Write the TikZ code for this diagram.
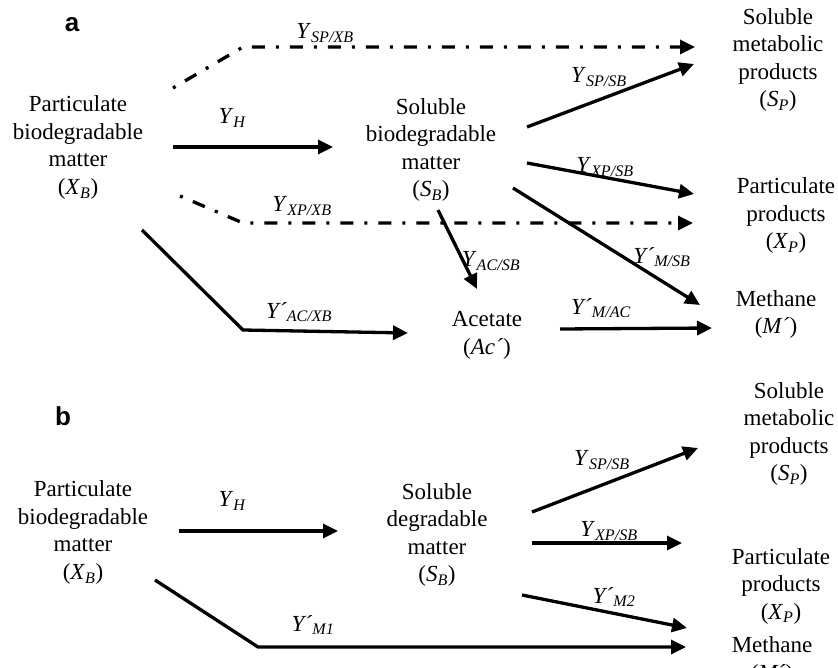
\documentclass[tikz,border=0pt]{standalone}
\usepackage{fontspec}
\setmainfont{Liberation Serif}
\newfontfamily\panelfont{Liberation Sans}
\usetikzlibrary{arrows.meta}
\newcommand{\yld}[2]{\textit{#1}\textsubscript{\itshape #2}}

\begin{document}
\begin{tikzpicture}[x=1pt, y=-1pt,
        txt/.style={align=center, inner sep=0pt, font=\fontsize{23}{27.5}\selectfont},
        lbl/.style={inner sep=0pt, font=\fontsize{23}{27.5}\selectfont},
        panel/.style={inner sep=0pt, font=\panelfont\bfseries\fontsize{26}{30}\selectfont},
        arrow/.style={-{Triangle[length=15pt, width=14pt]}, line width=3.3pt},
        dashdot2/.style={arrow, dash pattern=on 3pt off 11pt on 13pt off 11pt},
    ]
    \useasboundingbox (0,0) rectangle (838,668);

    % panel a
    \node[panel] (pa)  at (72,25)      {a};
    \node[txt]   (xba) at (78,147.5)   {Particulate\\biodegradable\\matter\\(\yld{X}{B})};
    \node[txt]   (sba) at (431,150)    {Soluble\\biodegradable\\matter\\(\yld{S}{B})};
    \node[txt]   (spa) at (778,60)     {Soluble\\metabolic\\products\\(\yld{S}{P})};
    \node[txt]   (xpa) at (786,215.5)  {Particulate\\products\\(\yld{X}{P})};
    \node[txt]   (ma)  at (776,314.5)  {Methane\\(\textit{M´})};
    \node[txt]   (aca) at (487,335.5)  {Acetate\\(\textit{Ac´})};

    \node[lbl] (lspxb) at (325,33)  {\yld{Y}{SP/XB}};
    \node[lbl] (lha)   at (232,118) {\yld{Y}{H}};
    \node[lbl] (lxpxb) at (302,206) {\yld{Y}{XP/XB}};
    \node[lbl] (lacxb) at (299,312) {\yld{Y´}{AC/XB}};
    \node[lbl] (lspsb) at (599,77)  {\yld{Y}{SP/SB}};
    \node[lbl] (lxpsb) at (605,167) {\yld{Y}{XP/SB}};
    \node[lbl] (lmsb)  at (662,257) {\yld{Y´}{M/SB}};
    \node[lbl] (lacsb) at (491,261) {\yld{Y}{AC/SB}};
    \node[lbl] (lmac)  at (601,308) {\yld{Y´}{M/AC}};

    \coordinate (ha0) at (173,147);  \coordinate (ha1) at (333,147);
    \coordinate (sp0) at (173,88);   \coordinate (sp1) at (243,47);  \coordinate (sp2) at (695,47);
    \coordinate (xp0) at (180,196);  \coordinate (xp1) at (243,223); \coordinate (xp2) at (693,223);
    \coordinate (ac0) at (142,230);  \coordinate (ac1) at (243,330); \coordinate (ac2) at (408,333);
    \coordinate (sa0) at (527,127);  \coordinate (sa1) at (694,64);
    \coordinate (sb0) at (527,163);  \coordinate (sb1) at (694,194);
    \coordinate (sc0) at (513,188);  \coordinate (sc1) at (700,305);
    \coordinate (sd0) at (438,210);  \coordinate (sd1) at (477,289);
    \coordinate (am0) at (560,329);  \coordinate (am1) at (712,328);

    \draw[dashdot2] (sp0) -- (sp1) -- (sp2);
    \draw[dashdot2] (xp0) -- (xp1) -- (xp2);
    \draw[arrow] (ac0) -- (ac1) -- (ac2);

    % panel b
    \node[panel] (pb)  at (63,416)     {b};
    \node[txt]   (xbb) at (83,532.5)   {Particulate\\biodegradable\\matter\\(\yld{X}{B})};
    \node[txt]   (sbb) at (437,535)    {Soluble\\degradable\\matter\\(\yld{S}{B})};
    \node[txt]   (spb) at (789,434)    {Soluble\\metabolic\\products\\(\yld{S}{P})};
    \node[txt]   (xpb) at (781,586)    {Particulate\\products\\(\yld{X}{P})};
    \node[txt]   (mb)  at (772,661)    {Methane\\(\textit{M´})};

    \node[lbl] (lhb)    at (232,501) {\yld{Y}{H}};
    \node[lbl] (lm1)    at (313,625) {\yld{Y´}{M1}};
    \node[lbl] (lspsbb) at (602,460) {\yld{Y}{SP/SB}};
    \node[lbl] (lxpsbb) at (609,531) {\yld{Y}{XP/SB}};
    \node[lbl] (lm2)    at (614,597) {\yld{Y´}{M2}};

    \coordinate (hb0) at (179,531);  \coordinate (hb1) at (338,531);
    \coordinate (mx0) at (155,580);  \coordinate (mx1) at (258,647); \coordinate (mx2) at (686,647);
    \coordinate (ta0) at (532,512);  \coordinate (ta1) at (698,448);
    \coordinate (tb0) at (532,543);  \coordinate (tb1) at (682,543);
    \coordinate (tc0) at (522,595);  \coordinate (tc1) at (687,628);

    \draw[arrow] (mx0) -- (mx1) -- (mx2);

    \foreach \a/\b in {ha0/ha1, sa0/sa1, sb0/sb1, sc0/sc1, sd0/sd1, am0/am1,
                       hb0/hb1, ta0/ta1, tb0/tb1, tc0/tc1} {
        \draw[arrow] (\a) -- (\b);
    }
\end{tikzpicture}
\end{document}
